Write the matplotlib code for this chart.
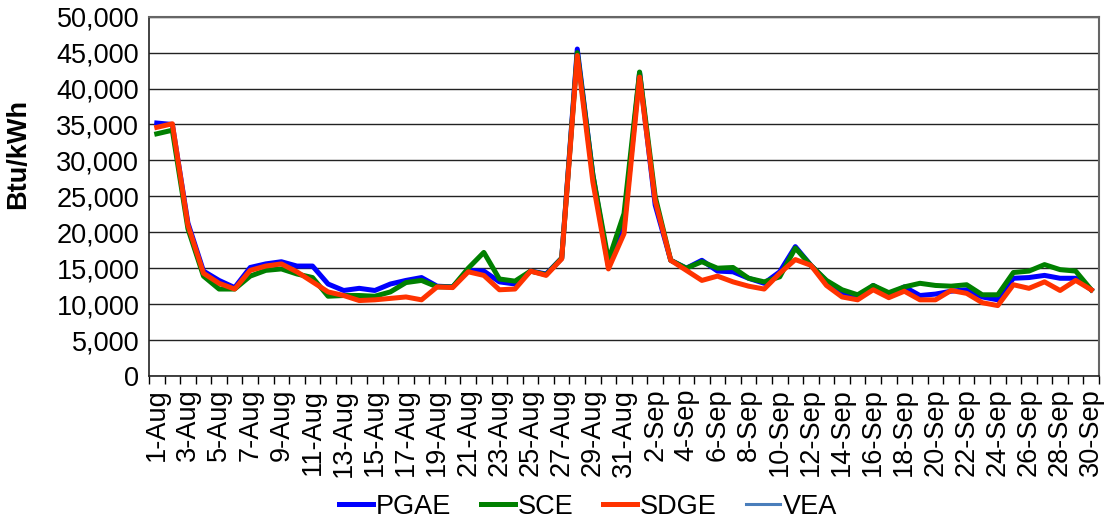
import matplotlib
matplotlib.use("Agg")
import matplotlib.pyplot as plt
from matplotlib.ticker import FuncFormatter, FixedLocator
import numpy as np

plt.rcParams['font.family'] = ['Liberation Sans', 'DejaVu Sans']

# daily dates, 1-Aug .. 30-Sep
dates = [f"{d}-Aug" for d in range(1, 32)] + [f"{d}-Sep" for d in range(1, 31)]

pgae = [35200, 35000, 21300, 14600, 13300, 12300, 15100, 15600, 15900, 15300,
        15300, 12800, 11900, 12200, 11900, 12800, 13300, 13700, 12500, 12400,
        14700, 14600, 13100, 12800, 14600, 14200, 16400, 45500, 28000, 15300,
        20800, 42200, 23800, 16100, 15000, 16100, 14600, 14500, 13600, 12900,
        14500, 18000, 15400, 13200, 11500, 10900, 12600, 11300, 12400, 11200,
        11400, 11800, 12000, 11000, 10600, 13600, 13700, 14000, 13600, 13600,
        12000]
sce = [33700, 34200, 20500, 13900, 12100, 12100, 13900, 14700, 14900, 14200,
       13700, 11100, 11200, 11200, 11100, 11700, 13000, 13300, 12400, 12400,
       15000, 17200, 13500, 13200, 14600, 14100, 16400, 45000, 28000, 16100,
       22600, 42300, 25000, 16100, 15000, 15900, 15000, 15100, 13600, 13100,
       13800, 17800, 15400, 13300, 12000, 11300, 12600, 11600, 12400, 12900,
       12600, 12500, 12700, 11300, 11300, 14400, 14600, 15500, 14800, 14600,
       12000]
sdge = [34600, 35100, 21000, 14300, 12900, 12100, 14700, 15300, 15600, 14500,
        13100, 11700, 11200, 10500, 10600, 10800, 11000, 10600, 12400, 12300,
        14500, 14000, 12000, 12100, 14600, 14000, 16300, 44600, 27000, 14900,
        19800, 41600, 24400, 16100, 14700, 13300, 13900, 13100, 12500, 12100,
        14300, 16200, 15400, 12600, 11000, 10600, 12000, 10900, 11800, 10600,
        10600, 11900, 11500, 10200, 9800, 12700, 12200, 13100, 11900, 13300,
        12000]
vea = []  # no visible values in the chart

y_ticks = list(range(0, 50001, 5000))

fig = plt.figure(figsize=(11.06, 5.21), dpi=100)
ax = fig.add_axes([0.1347, 0.2783, 0.8590, 0.6897])

x = np.arange(len(dates)) + 0.5
ax.plot(x, pgae, color='#0000FF', lw=3.6, label='PGAE', solid_joinstyle='round')
ax.plot(x, sce, color='#008000', lw=3.6, label='SCE', solid_joinstyle='round')
ax.plot(x, sdge, color='#FF3300', lw=3.6, label='SDGE', solid_joinstyle='round')
ax.plot(x[:len(vea)], vea, color='#4A7EBB', lw=2.2, label='VEA')

ax.set_xlim(0, len(dates))
ax.set_ylim(0, 50000)
ax.set_yticks(y_ticks)
ax.yaxis.set_major_formatter(FuncFormatter(lambda v, p: f"{int(v):,}"))
ax.tick_params(axis='y', length=0, labelsize=19.5, pad=7)

# labels on every other day, tick marks between categories
ax.xaxis.set_major_locator(FixedLocator(x[::2]))
ax.set_xticklabels(dates[::2], rotation=90)
ax.xaxis.set_minor_locator(FixedLocator(np.arange(len(dates) + 1)))
ax.tick_params(axis='x', which='major', length=0, labelsize=19.5, pad=9)
ax.tick_params(axis='x', which='minor', length=6, width=1, color='black', direction='out')

ax.grid(axis='y', color='#222222', lw=1)
ax.set_axisbelow(True)
for s in ['top', 'right']:
    ax.spines[s].set_color('#666666')
    ax.spines[s].set_linewidth(1.5)
for s in ['left', 'bottom']:
    ax.spines[s].set_color('#222222')
    ax.spines[s].set_linewidth(1.2)

ax.set_ylabel('Btu/kWh', fontsize=19.5, fontweight='bold')
ax.yaxis.set_label_coords(-0.124, 0.618)

fig.legend(loc='center', bbox_to_anchor=(0.532, 0.027), ncol=4, frameon=False,
           fontsize=19.5, handlelength=1.25, handletextpad=0.1, columnspacing=1.1)

fig.savefig('out.png', dpi=100)
